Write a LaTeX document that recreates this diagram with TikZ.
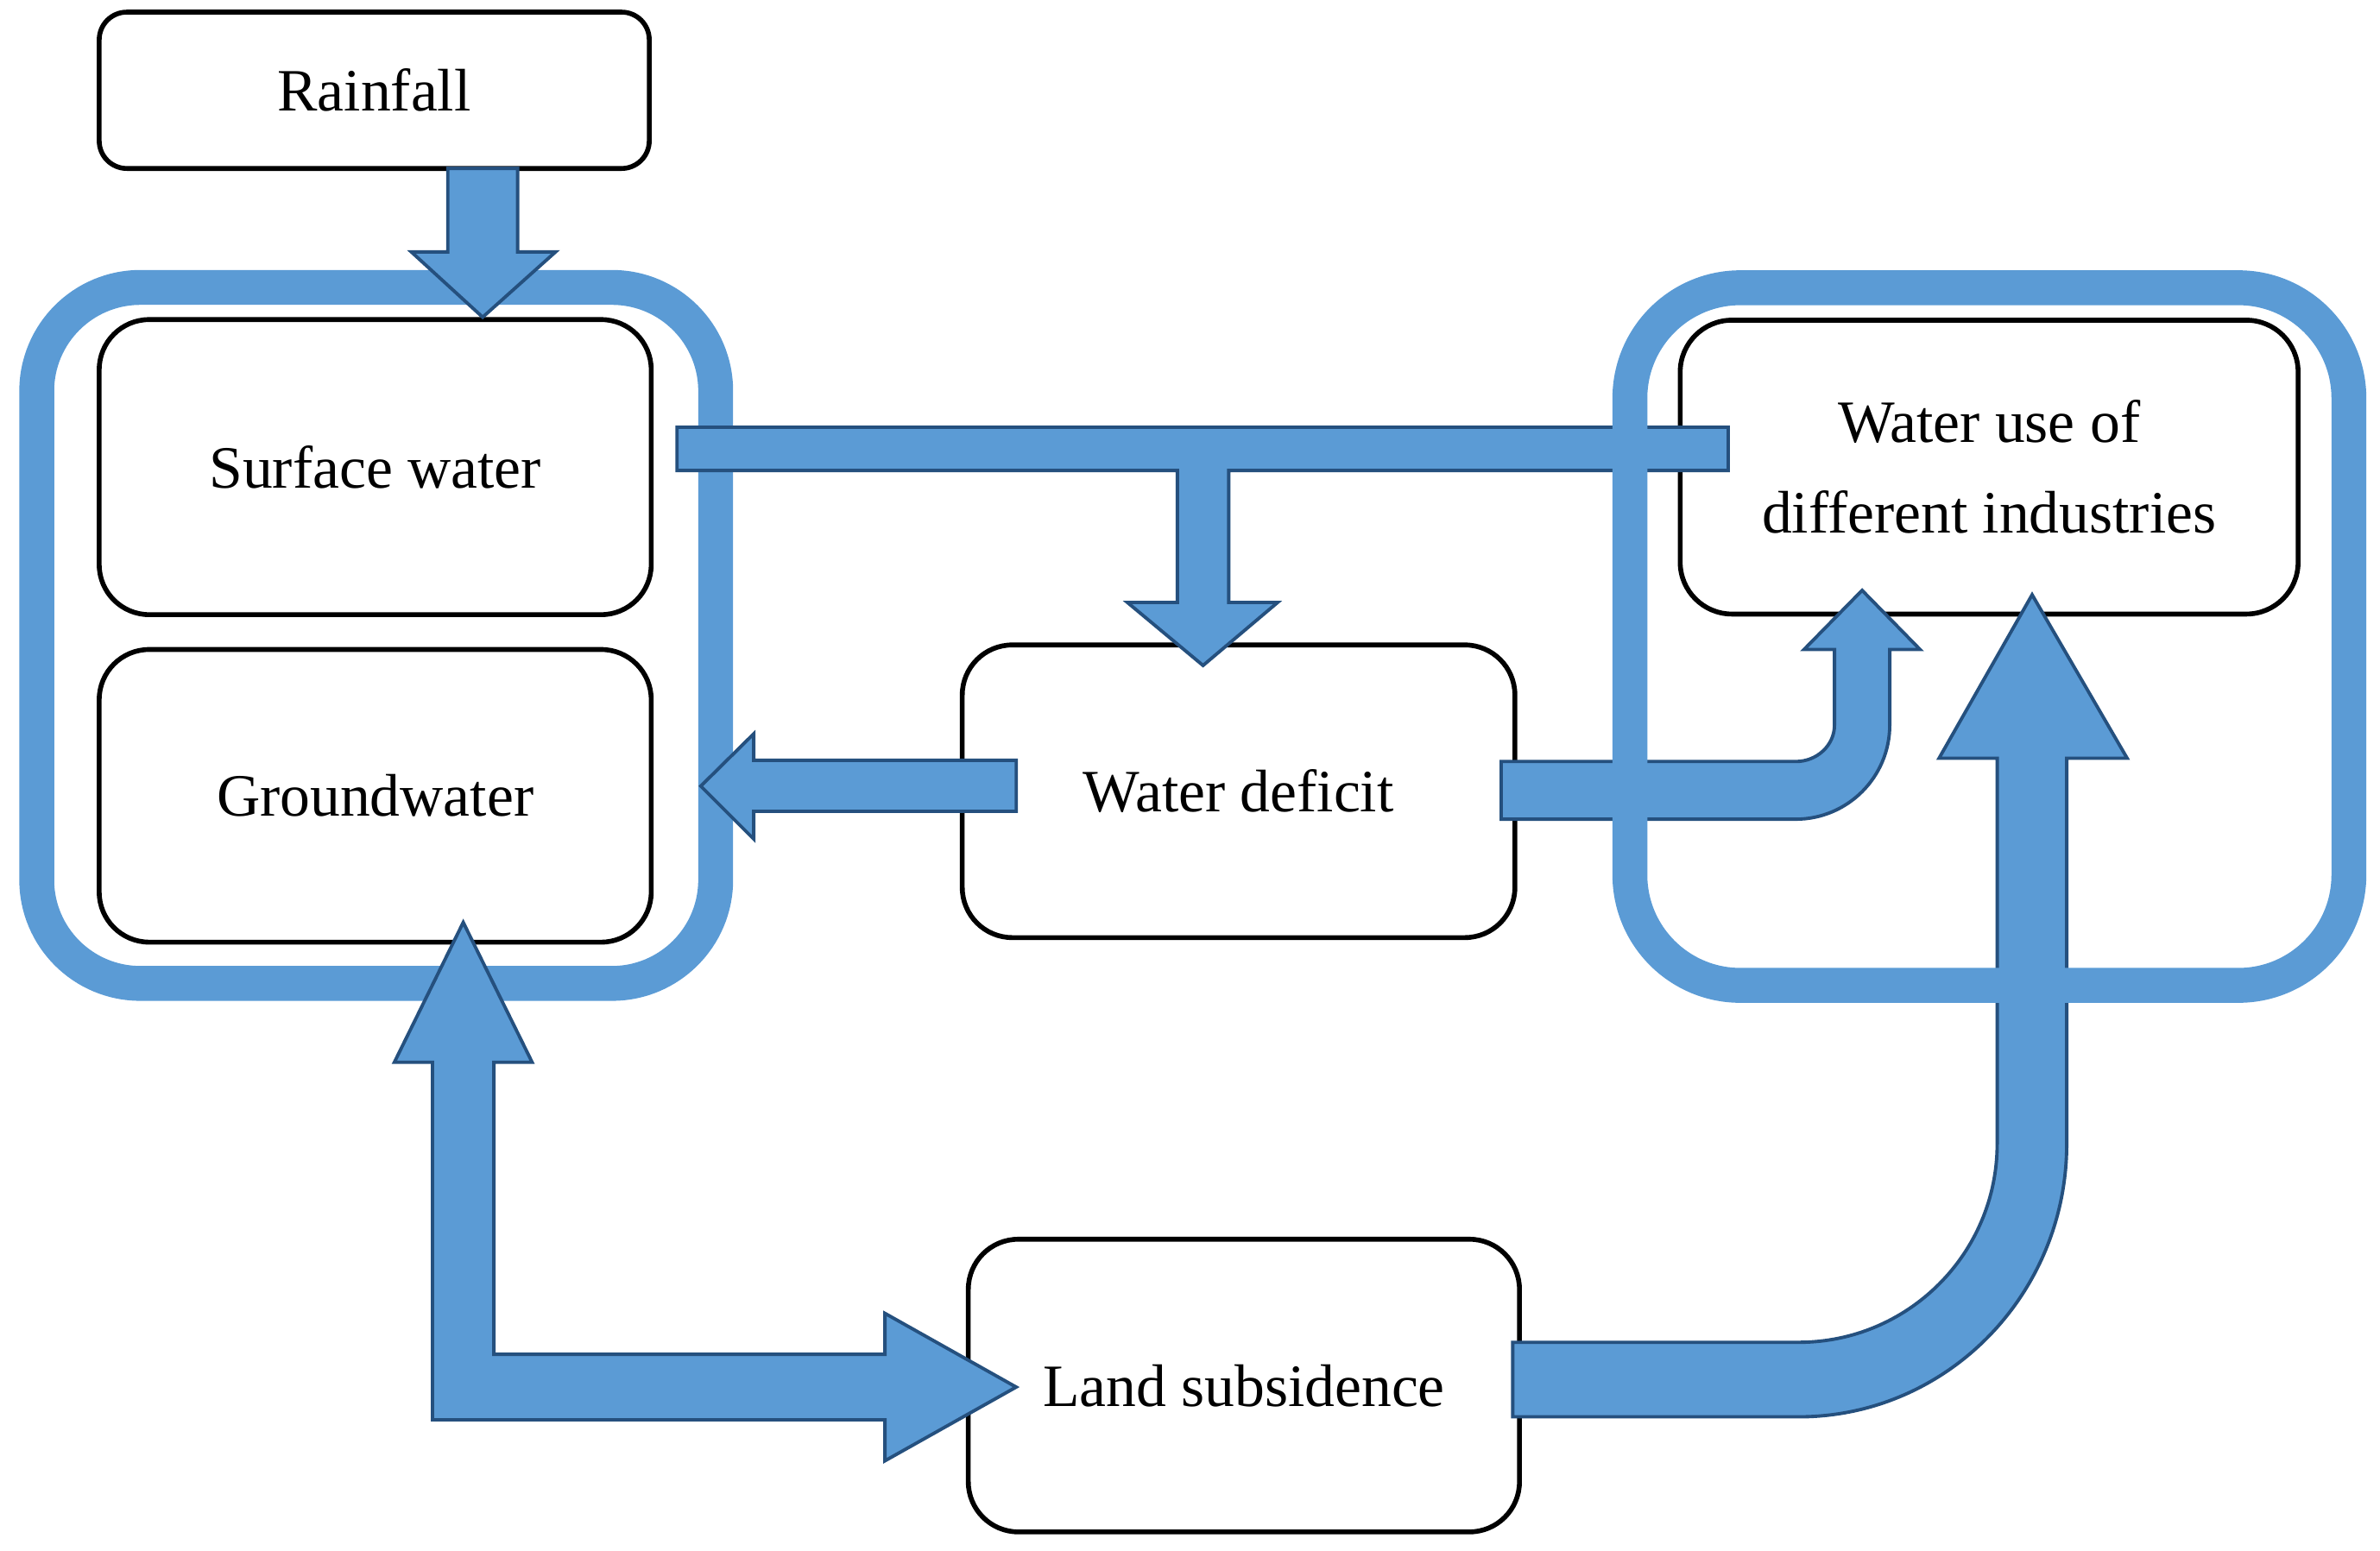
\documentclass[tikz,border=0pt]{standalone}
\usepackage{fontspec}
\setmainfont{Liberation Serif}
\definecolor{fillblue}{HTML}{5B9BD5}
\definecolor{edgeblue}{HTML}{25507E}
\begin{document}
\begin{tikzpicture}[x=0.017583cm,y=-0.017583cm,
  box/.style={draw=black,line width=1.6pt,fill=white,rectangle,inner sep=0pt,
    rounded corners=0.58cm,font=\fontsize{19.8}{29.9}\selectfont,align=center},
  blockarrow/.style={fill=fillblue,draw=edgeblue,line width=1.1pt,line join=miter},
  ring/.style={draw=fillblue,line width=0.404cm}]
\useasboundingbox (0,0) rectangle (1568,1022);

% left ring
\draw[ring,rounded corners=1.2cm] (24.2,189.4) rectangle (471.5,648);

% boxes
\node[box,minimum width=6.370cm,minimum height=1.811cm,rounded corners=0.32cm] (rain) at (246.55,59.5) {Rainfall};
\node[box,minimum width=6.393cm,minimum height=3.418cm] (surf) at (247.2,307.8) {Surface water};
\node[box,minimum width=6.393cm,minimum height=3.390cm] (ground) at (247.2,524.4) {Groundwater};
\node[box,minimum width=6.400cm,minimum height=3.390cm] (deficit) at (816,521.4) {Water deficit};
\node[box,minimum width=7.156cm,minimum height=3.404cm,rounded corners=0.6cm] (use) at (1310.5,307.8) {Water use of\\different industries};
\node[box,minimum width=6.383cm,minimum height=3.390cm] (land) at (819.5,913) {Land subsidence};

% rainfall -> surface water
\draw[blockarrow] (295,111) -- (341,111) -- (341,166) -- (366,166) -- (318,209) -- (271,166) -- (295,166) -- cycle;

% bar and down arrow to water deficit
\draw[blockarrow] (446,281.5) -- (1138.6,281.5) -- (1138.6,310) -- (809.5,310) -- (809.5,397)
  -- (841.7,397) -- (792.6,438.5) -- (742.8,397) -- (775.7,397) -- (775.7,310) -- (446,310) -- cycle;

% water deficit -> groundwater
\draw[blockarrow] (669.5,501) -- (496.6,501) -- (496.6,483.5) -- (461.7,518) -- (496.6,552.9)
  -- (496.6,534.6) -- (669.5,534.6) -- cycle;

% water deficit -> water use
\draw[blockarrow] (989,501.8) -- (1183,501.8) .. controls (1197.1,501.8) and (1208.6,491.1) .. (1208.6,477.8)
  -- (1208.6,428) -- (1188.5,428) -- (1226.8,389) -- (1265,428) -- (1245,428) -- (1245,477.8)
  .. controls (1245,512) and (1217.2,539.8) .. (1183,539.8) -- (989,539.8) -- cycle;

% land subsidence -> water use
\draw[blockarrow] (996.6,884.5) -- (1185,884.5) .. controls (1257.2,884.5) and (1315.8,825.9) .. (1315.8,753.6)
  -- (1315.8,499.6) -- (1277.5,499.6) -- (1338.8,391.9) -- (1401.4,499.6) -- (1361.6,499.6) -- (1361.6,753.6)
  .. controls (1361.6,853) and (1282.5,933.6) .. (1185,933.6) -- (996.6,933.6) -- cycle;

% groundwater <-> land subsidence
\draw[blockarrow] (284.9,935.6) -- (284.9,700) -- (259.8,700) -- (305.2,607.8) -- (350.6,700) -- (325.4,700)
  -- (325.4,892.4) -- (583,892.4) -- (583,865.4) -- (669.5,914) -- (583,962.6) -- (583,935.6) -- cycle;

% right ring
\draw[ring,rounded corners=1.28cm] (1073.8,189.6) rectangle (1547.5,649.3);
\end{tikzpicture}
\end{document}
